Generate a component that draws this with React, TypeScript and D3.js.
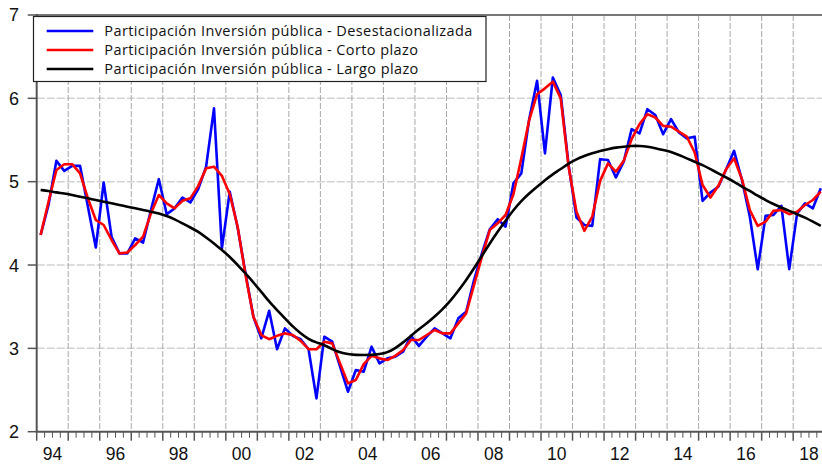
import * as d3 from "d3";
import React from "react";

// quarterly data, 1994Q1 .. 2018Q4
const startYear = 1994;
const endYear = 2019;
const yTicks = [2, 3, 4, 5, 6, 7];
const xLabels = ["94", "96", "98", "00", "02", "04", "06", "08", "10", "12", "14", "16", "18"];

const seriesNames = [
  "Participación Inversión pública - Desestacionalizada",
  "Participación Inversión pública - Corto plazo",
  "Participación Inversión pública - Largo plazo",
];
const seriesColors = ["#0000ff", "#ff0000", "#000000"];

const desestacionalizada = [
  4.36, 4.72, 5.25, 5.13, 5.19, 5.19, 4.7, 4.21, 4.99, 4.34,
  4.14, 4.14, 4.32, 4.27, 4.66, 5.03, 4.61, 4.68, 4.81, 4.75,
  4.91, 5.18, 5.88, 4.2, 4.88, 4.45, 3.9, 3.38, 3.12, 3.45,
  2.99, 3.24, 3.15, 3.11, 2.99, 2.4, 3.14, 3.08, 2.78, 2.48,
  2.74, 2.72, 3.02, 2.82, 2.88, 2.9, 2.96, 3.15, 3.03, 3.14,
  3.24, 3.18, 3.12, 3.36, 3.44, 3.82, 4.14, 4.43, 4.55, 4.46,
  4.98, 5.1, 5.75, 6.21, 5.34, 6.25, 6.04, 5.2, 4.57, 4.48,
  4.47, 5.27, 5.26, 5.05, 5.24, 5.63, 5.58, 5.87, 5.8, 5.57,
  5.75, 5.59, 5.52, 5.54, 4.77, 4.87, 4.94, 5.15, 5.37, 5.02,
  4.58, 3.95, 4.59, 4.6, 4.71, 3.95, 4.62, 4.74, 4.68, 4.92,
];

const cortoPlazo = [
  4.36, 4.76, 5.14, 5.21, 5.21, 5.1, 4.8, 4.54, 4.48, 4.3,
  4.14, 4.15, 4.24, 4.34, 4.62, 4.84, 4.74, 4.68, 4.77, 4.8,
  4.95, 5.16, 5.18, 5.07, 4.85, 4.46, 3.88, 3.38, 3.16, 3.11,
  3.15, 3.18, 3.16, 3.09, 2.99, 2.99, 3.08, 3.06, 2.82, 2.58,
  2.62, 2.81, 2.91, 2.88, 2.86, 2.91, 2.98, 3.1, 3.1, 3.16,
  3.22, 3.18, 3.18, 3.3, 3.42, 3.76, 4.1, 4.42, 4.5, 4.6,
  4.85, 5.28, 5.74, 6.05, 6.12, 6.2, 6.0, 5.18, 4.64, 4.41,
  4.58, 5.01, 5.22, 5.12, 5.25, 5.51, 5.69, 5.81, 5.77, 5.67,
  5.66, 5.6, 5.54, 5.35, 4.96, 4.81, 4.95, 5.15, 5.28, 5.03,
  4.66, 4.47, 4.52, 4.65, 4.66, 4.61, 4.64, 4.72, 4.78, 4.88,
];

const largoPlazo = [
  4.9, 4.89, 4.87, 4.86, 4.84, 4.82, 4.8, 4.78, 4.76, 4.74,
  4.72, 4.7, 4.68, 4.66, 4.64, 4.62, 4.59, 4.55, 4.5, 4.45,
  4.4, 4.33, 4.26, 4.18, 4.1, 4.0, 3.9, 3.79, 3.68, 3.56,
  3.46, 3.36, 3.26, 3.18, 3.11, 3.07, 3.04, 2.99, 2.95, 2.93,
  2.92, 2.92, 2.92, 2.93, 2.95, 3.0, 3.07, 3.15, 3.23, 3.3,
  3.38, 3.47, 3.57, 3.69, 3.82, 3.96, 4.11, 4.26, 4.4, 4.53,
  4.66, 4.77, 4.86, 4.94, 5.02, 5.09, 5.15, 5.22, 5.27, 5.31,
  5.34, 5.37, 5.39, 5.41, 5.42, 5.43, 5.43, 5.42, 5.4, 5.38,
  5.36, 5.32, 5.28, 5.24, 5.2, 5.15, 5.1, 5.05, 5.0, 4.94,
  4.89, 4.83, 4.78, 4.73, 4.69, 4.65, 4.61, 4.57, 4.52, 4.47,
];

const W = 822;
const H = 464;
const left = 36.7;
const top = 15;
const bottom = 431.7;
const yearWidth = 31.52;

export default function App() {
  const x = d3.scaleLinear().domain([startYear, endYear]).range([left, left + (endYear - startYear) * yearWidth]);
  const y = d3.scaleLinear().domain([2, 7]).range([bottom, top]);

  const line = d3
    .line<number>()
    .x((_, i) => x(startYear + (i + 0.5) / 4))
    .y((d) => y(d));
  // the long-term trend is a smooth curve
  const smooth = d3
    .line<number>()
    .x((_, i) => x(startYear + (i + 0.5) / 4))
    .y((d) => y(d))
    .curve(d3.curveBasis);

  const years = d3.range(startYear, endYear + 1);
  const quarters = d3.range(startYear * 4, endYear * 4).filter((q) => q % 4 !== 0).map((q) => q / 4);
  const series = [desestacionalizada, cortoPlazo, largoPlazo];

  return (
    <svg width={W} height={H} style={{ position: "absolute", left: 0, top: 0, background: "#fff" }}
      fontFamily="'Liberation Sans', Arial, sans-serif">
      {/* horizontal grid */}
      {yTicks.filter((t) => t > 2 && t < 7).map((t) => (
        <line key={"h" + t} x1={left} x2={W} y1={y(t)} y2={y(t)} stroke="#d2d2d2" strokeWidth={1.5} strokeDasharray="8,2" />
      ))}
      {/* vertical grid */}
      {years.slice(1).map((yr) => (
        <line key={"v" + yr} x1={x(yr)} x2={x(yr)} y1={top} y2={bottom} stroke="#a8a8a8" strokeWidth={1} strokeDasharray="6,2" />
      ))}
      {/* frame */}
      <line x1={left} x2={W} y1={top} y2={top} stroke="#777" strokeWidth={2} />
      <line x1={left} x2={left} y1={top - 1} y2={bottom} stroke="#555" strokeWidth={2} />
      <line x1={left - 1} x2={W} y1={bottom} y2={bottom} stroke="#555" strokeWidth={2} />

      {/* y axis */}
      {yTicks.map((t) => (
        <g key={"y" + t}>
          <line x1={left - 9} x2={left} y1={y(t)} y2={y(t)} stroke="#555" strokeWidth={1.5} />
          <text x={19} y={y(t)} dy="0.36em" textAnchor="end" fontSize={18} fill="#111">{t}</text>
        </g>
      ))}

      {/* x axis */}
      {years.map((yr) => (
        <line key={"t" + yr} x1={x(yr)} x2={x(yr)} y1={bottom} y2={bottom + 9} stroke="#555" strokeWidth={1.5} />
      ))}
      {quarters.map((q) => (
        <line key={"q" + q} x1={x(q)} x2={x(q)} y1={bottom} y2={bottom + 6} stroke="#555" strokeWidth={1} />
      ))}
      {xLabels.map((lab, i) => (
        <text key={"l" + lab} x={x(startYear + 2 * i + 0.5)} y={460} textAnchor="middle" fontSize={17.5} fill="#111">{lab}</text>
      ))}

      {/* series */}
      {series.map((s, k) => (
        <path key={"s" + k} d={(k === 2 ? smooth(s) : line(s)) || ""} fill="none" stroke={seriesColors[k]}
          strokeWidth={2.6} strokeLinejoin="round" />
      ))}

      {/* legend */}
      <rect x={33.5} y={16.5} width={452.5} height={65} fill="#fff" stroke="#222" strokeWidth={1.2} />
      {seriesNames.map((name, k) => (
        <g key={"lg" + k}>
          <line x1={46.7} x2={93.3} y1={31 + k * 19} y2={31 + k * 19} stroke={seriesColors[k]} strokeWidth={2.6} />
          <text x={104.3} y={31 + k * 19} dy="0.35em" fontSize={14.5} letterSpacing={0.4}
            fontFamily="'Open Sans', sans-serif" fill="#111">{name}</text>
        </g>
      ))}
    </svg>
  );
}
